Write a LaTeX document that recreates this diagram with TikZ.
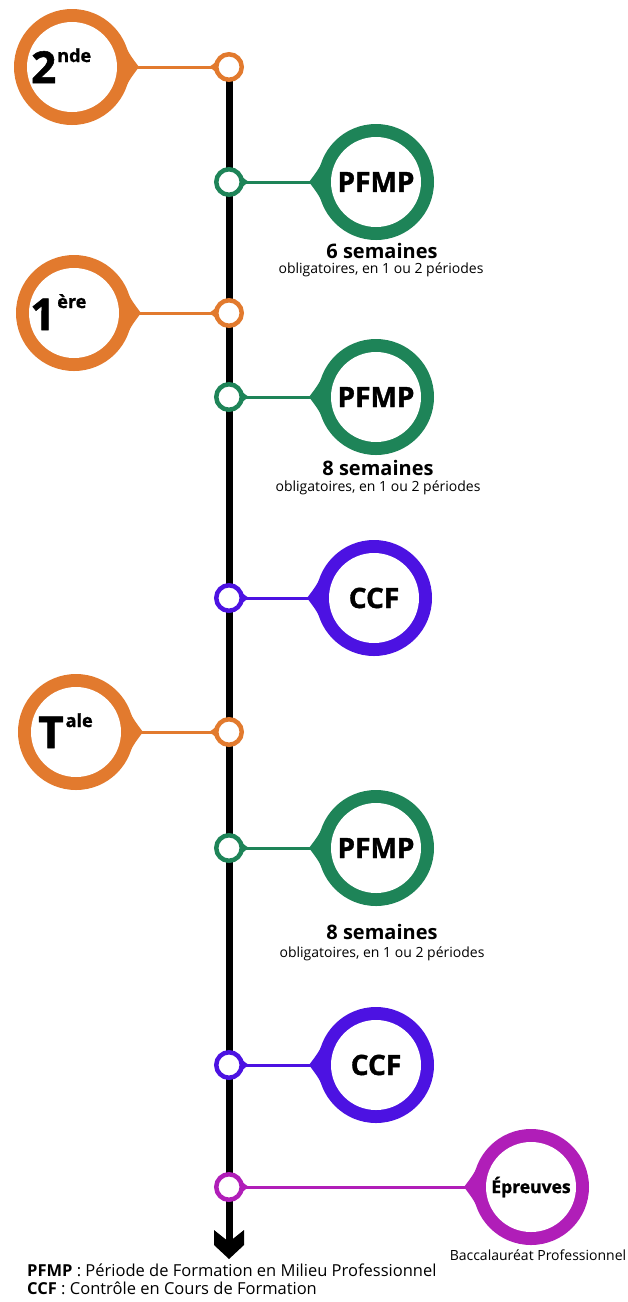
\documentclass[tikz,border=0pt]{standalone}
\usepackage{fontspec}
\setmainfont{Open Sans}
\newfontfamily\heavy{Open Sans}[BoldFeatures={FakeBold=1.2}]
\usetikzlibrary{calc}
\pgfdeclarelayer{bg}
\pgfsetlayers{bg,main}
\definecolor{corange}{RGB}{226,122,46}
\definecolor{cgreen}{RGB}{30,132,88}
\definecolor{cblue}{RGB}{76,18,226}
\definecolor{cmagenta}{RGB}{176,30,184}
\tikzset{
  innerdisc/.style={circle, fill=white, minimum size=90pt, inner sep=0pt, outer sep=0pt,
    font=\heavy\bfseries\fontsize{28}{28}\selectfont},
  smalldisc/.style={circle, fill=white, line width=4.5pt, minimum size=25.5pt, inner sep=0pt, outer sep=0pt},
  conn/.style={line width=3pt},
  spine/.style={line width=7pt, black},
  bigtext/.style={anchor=base west, inner sep=0pt, font=\heavy\bfseries\fontsize{44}{44}\selectfont},
  weeks/.style={inner sep=0pt, font=\bfseries\fontsize{20}{20}\selectfont},
  weeksnote/.style={inner sep=0pt, font=\fontsize{14}{14}\selectfont},
  legend/.style={anchor=base west, inner sep=0pt, font=\fontsize{16.5}{16.5}\selectfont}
}
\newcommand\bigbubble[5]{%
  \fill[#3] (#2) circle[radius=58];
  \fill[#3] ($(#2)+(#4+32:57)$) .. controls ($(#2)+(#4+12:59)$) .. ($(#2)+(#4:67)$)
     .. controls ($(#2)+(#4-12:59)$) .. ($(#2)+(#4-32:57)$) -- (#2) -- cycle;
  \node[innerdisc] (#1) at (#2) {#5};
}
\newcommand\smallbubble[4]{%
  \fill[#3] ($(#2)+(#4+40:14)$) .. controls ($(#2)+(#4+14:15)$) .. ($(#2)+(#4:20)$)
     .. controls ($(#2)+(#4-14:15)$) .. ($(#2)+(#4-40:14)$) -- (#2) -- cycle;
  \node[smalldisc, draw=#3] (#1) at (#2) {};
}
\begin{document}
\begin{tikzpicture}[x=1pt,y=-1pt]
\useasboundingbox (0,0) rectangle (628,1302);

% small circles on the spine
\smallbubble{s1}{229,67}{corange}{180}
\smallbubble{s2}{229,182}{cgreen}{0}
\smallbubble{s3}{229,313}{corange}{180}
\smallbubble{s4}{229,397}{cgreen}{0}
\smallbubble{s5}{229,598}{cblue}{0}
\smallbubble{s6}{229,732}{corange}{180}
\smallbubble{s7}{229,848}{cgreen}{0}
\smallbubble{s8}{229,1065}{cblue}{0}
\smallbubble{s9}{229,1187}{cmagenta}{0}

% spine with arrow
\coordinate (arrowjoin) at (229,1242);
\begin{pgfonlayer}{bg}
\fill[white] (0,0) rectangle (628,1302);
\draw[spine] (s1.center) -- (arrowjoin);
\end{pgfonlayer}
\fill[black] (arrowjoin) ++(-15,-12) -- (arrowjoin) -- ++(15,-12) -- ++(0,15) -- ++(-15,14) -- ++(-15,-14) -- cycle;

% big bubbles
\bigbubble{b1}{72,67}{corange}{0}{}
\bigbubble{b2}{376,182}{cgreen}{180}{PFMP}
\bigbubble{b3}{74,313}{corange}{0}{}
\bigbubble{b4}{376,397}{cgreen}{180}{PFMP}
\bigbubble{b5}{374,598}{cblue}{180}{CCF}
\bigbubble{b6}{76,732}{corange}{0}{}
\bigbubble{b7}{376,848}{cgreen}{180}{PFMP}
\bigbubble{b8}{376,1065}{cblue}{180}{CCF}
\bigbubble{b9}{531,1187}{cmagenta}{180}{\fontsize{17.5}{17.5}\selectfont Épreuves}

% connectors
\draw[conn, corange] (s1) -- (b1);
\draw[conn, cgreen] (s2) -- (b2);
\draw[conn, corange] (s3) -- (b3);
\draw[conn, cgreen] (s4) -- (b4);
\draw[conn, cblue] (s5) -- (b5);
\draw[conn, corange] (s6) -- (b6);
\draw[conn, cgreen] (s7) -- (b7);
\draw[conn, cblue] (s8) -- (b8);
\draw[conn, cmagenta] (s9) -- (b9);

% year labels
\node[bigtext] (l1) at (31,83) {2\kern1pt\raisebox{21pt}{\fontsize{18}{18}\selectfont nde}};
\node[bigtext] (l3) at (30,330) {1\kern2pt\raisebox{22pt}{\fontsize{18}{18}\selectfont ère}};
\node[bigtext] (l6) at (38,748) {T\kern2pt\raisebox{21pt}{\fontsize{18}{18}\selectfont ale}};

% durations
\node[weeks] (w2) at (382,251) {6 semaines};
\node[weeksnote] (n2) at (381,270) {obligatoires, en 1 ou 2 périodes};
\node[weeks] (w4) at (378,468) {8 semaines};
\node[weeksnote] (n4) at (378,488) {obligatoires, en 1 ou 2 périodes};
\node[weeks] (w7) at (382,932) {8 semaines};
\node[weeksnote] (n7) at (382,954) {obligatoires, en 1 ou 2 périodes};

\node[inner sep=0pt, font=\fontsize{14}{14}\selectfont] (bac) at (538,1255) {Baccalauréat Professionnel};

% legend
\node[legend] (lg1) at (27,1276) {\textbf{PFMP} : Période de Formation en Milieu Professionnel};
\node[legend] (lg2) at (27,1294) {\textbf{CCF} : Contrôle en Cours de Formation};
\end{tikzpicture}
\end{document}
